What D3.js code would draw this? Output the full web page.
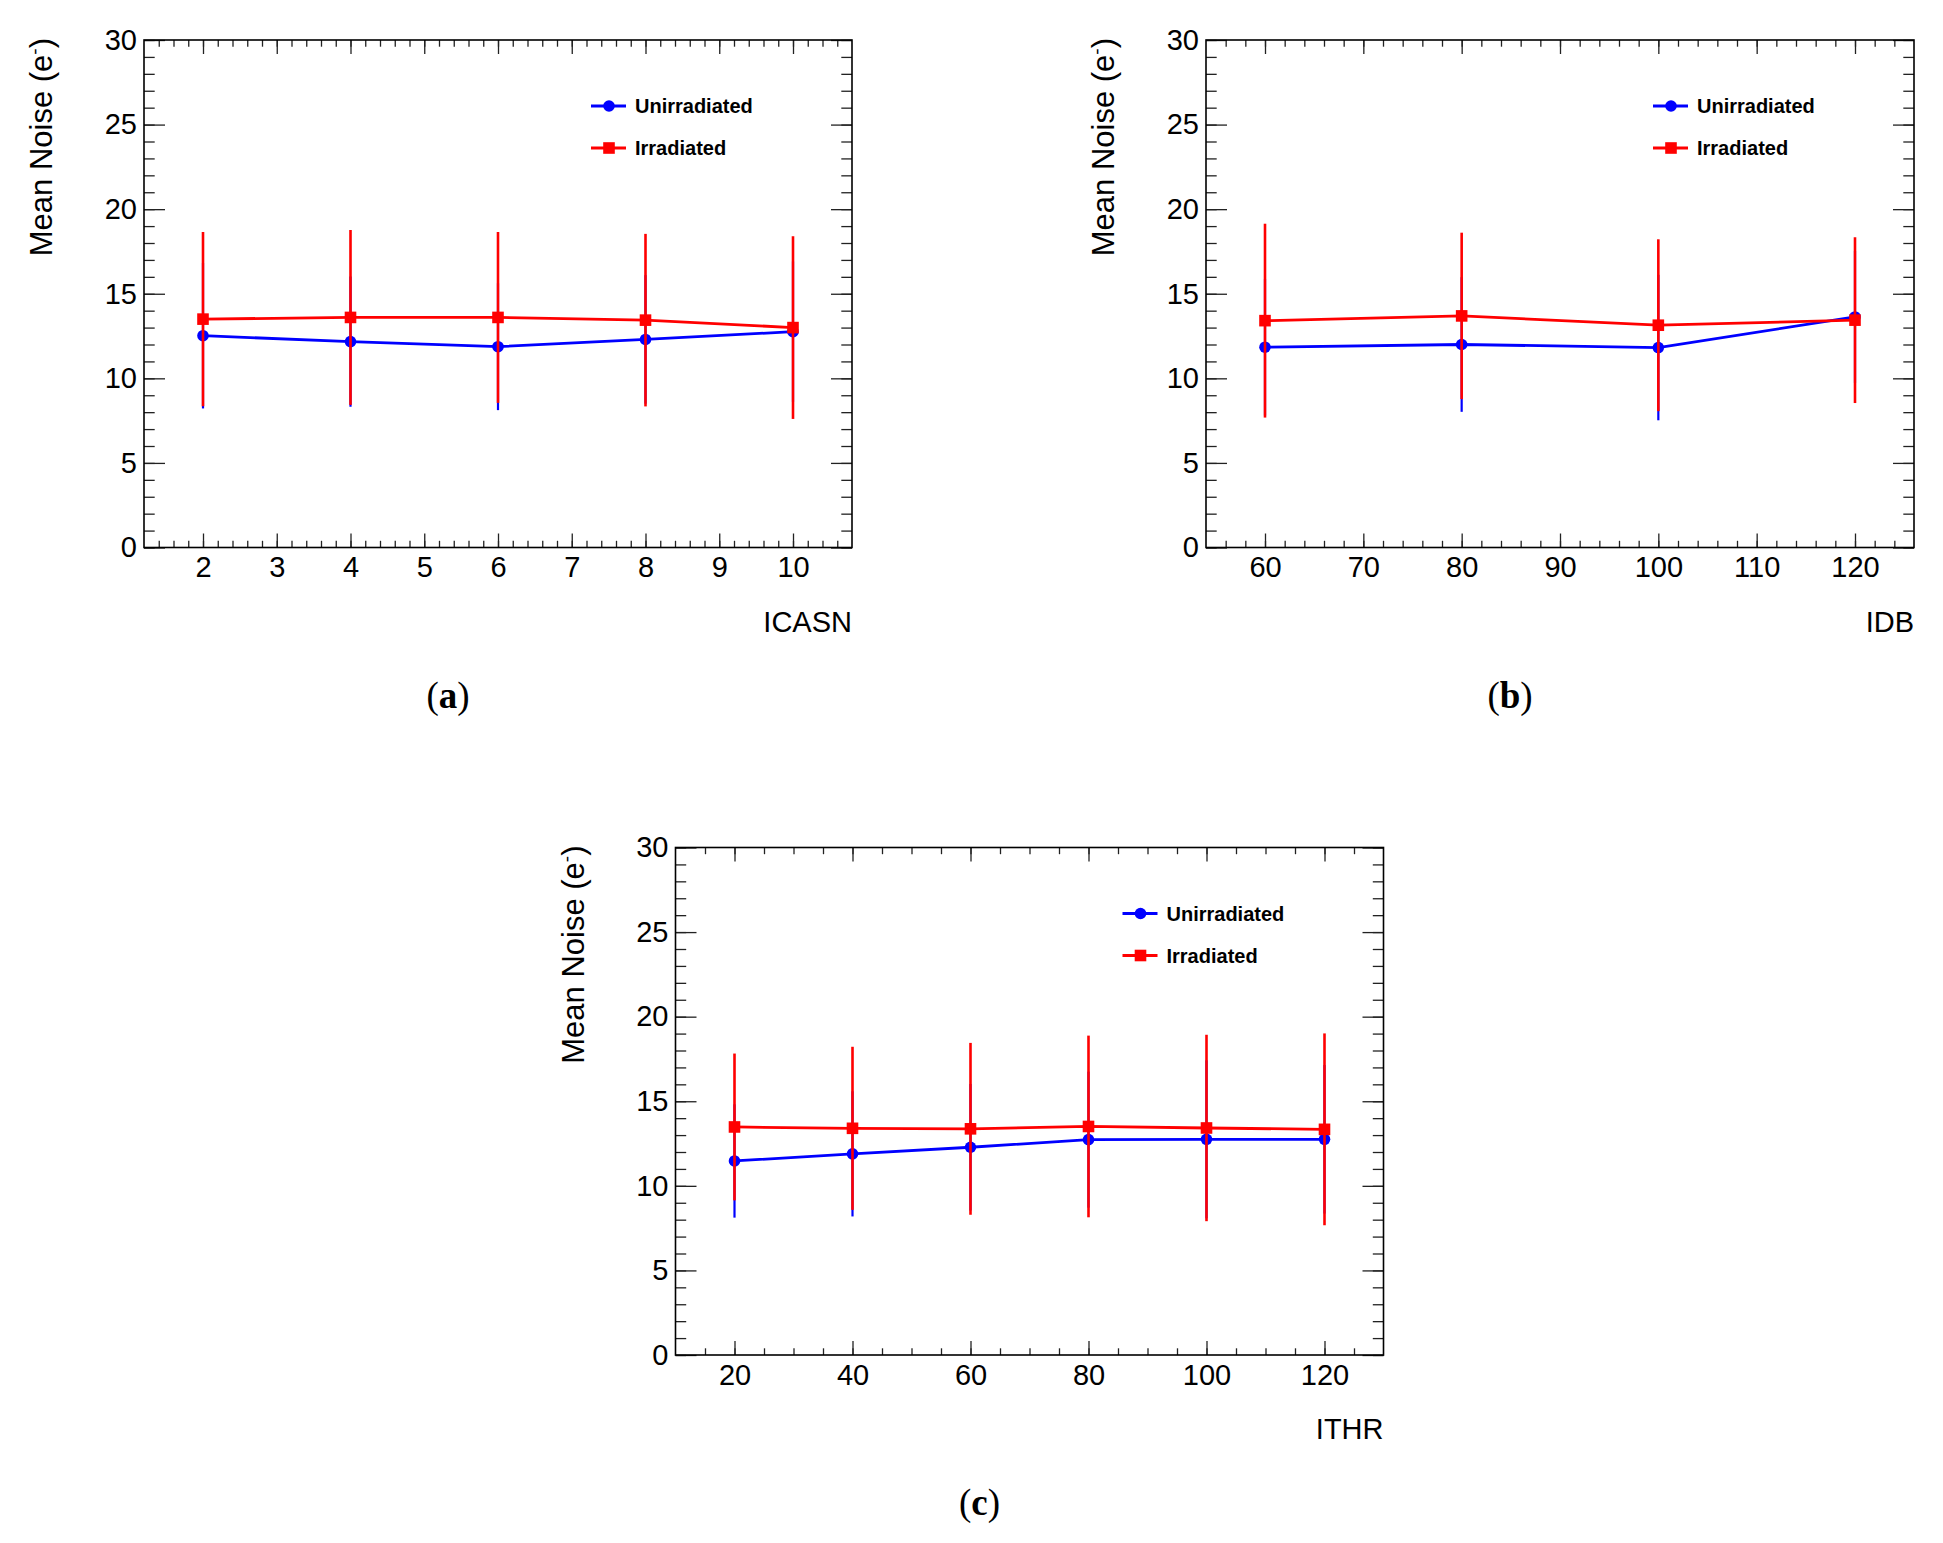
<!DOCTYPE html>
<html>
<head>
<meta charset="utf-8">
<script src="https://cdn.jsdelivr.net/npm/d3@7"></script>
<style>
  body { margin: 0; background: #fff; }
  svg text { font-family: "Liberation Sans", Arial, sans-serif; }
</style>
</head>
<body>
<div id="container"></div>
<script>
// panel (a) : ICASN scan
const icasnX = [2, 4, 6, 8, 10];
const icasnUnirr = [12.52, 12.17, 11.87, 12.3, 12.76];
const icasnUnirrErr = [4.3, 3.85, 3.75, 3.8, 4.15];
const icasnIrr = [13.5, 13.6, 13.6, 13.44, 13.0];
const icasnIrrErr = [5.15, 5.17, 5.05, 5.1, 5.4];

// panel (b) : IDB scan
const idbX = [60, 80, 100, 120];
const idbUnirr = [11.84, 12.0, 11.82, 13.63];
const idbUnirrErr = [4.04, 3.98, 4.3, 3.9];
const idbIrr = [13.41, 13.69, 13.14, 13.44];
const idbIrrErr = [5.73, 4.92, 5.08, 4.9];

// panel (c) : ITHR scan
const ithrX = [20, 40, 60, 80, 100, 120];
const ithrUnirr = [11.47, 11.89, 12.28, 12.73, 12.75, 12.75];
const ithrUnirrErr = [3.35, 3.7, 3.74, 4.02, 4.67, 4.39];
const ithrIrr = [13.48, 13.4, 13.37, 13.51, 13.42, 13.34];
const ithrIrrErr = [4.34, 4.82, 5.08, 5.37, 5.51, 5.67];

const yTicks = [0, 5, 10, 15, 20, 25, 30];
const seriesNames = ["Unirradiated", "Irradiated"];
const yTitle = "Mean Noise (e";

const W = 1943, H = 1543;
const fw = 708, fh = 507.5;

const svg = d3.select("#container")
  .append("svg")
  .attr("width", W)
  .attr("height", H);

function range(a, b, step) {
  const out = [];
  for (let v = a; v <= b + 1e-9; v += step) out.push(+v.toFixed(4));
  return out;
}

function drawPanel(p) {
  const g = svg.append("g")
    .attr("transform", "translate(" + p.left + "," + p.top + ")");

  const x = d3.scaleLinear().domain(p.xDomain).range([0, fw]);
  const y = d3.scaleLinear().domain([0, 30]).range([fh, 0]);

  const xMajor = range(p.xMajor[0], p.xMajor[1], p.xMajor[2]);
  const xMinor = range(p.xDomain[0], p.xDomain[1], p.xMinorStep)
    .filter(v => v > p.xDomain[0] && v < p.xDomain[1]);
  const yMinor = range(0, 30, 1);

  // minor ticks
  g.append("g").attr("transform", "translate(0," + fh + ")")
    .call(d3.axisBottom(x).tickValues(xMinor).tickSize(-6.7).tickFormat(""));
  g.append("g")
    .call(d3.axisTop(x).tickValues(xMinor).tickSize(-6.7).tickFormat(""));
  g.append("g")
    .call(d3.axisLeft(y).tickValues(yMinor).tickSize(-10.7).tickFormat(""));
  g.append("g").attr("transform", "translate(" + fw + ",0)")
    .call(d3.axisRight(y).tickValues(yMinor).tickSize(-10.7).tickFormat(""));

  // major ticks + labels
  g.append("g").attr("class", "xaxis").attr("transform", "translate(0," + fh + ")")
    .call(d3.axisBottom(x).tickValues(xMajor).tickSize(-14).tickPadding(9).tickFormat(d3.format("d")));
  g.append("g")
    .call(d3.axisTop(x).tickValues(xMajor).tickSize(-14).tickFormat(""));
  g.append("g").attr("class", "yaxis")
    .call(d3.axisLeft(y).tickValues(yTicks).tickSize(-21).tickPadding(7).tickFormat(d3.format("d")));
  g.append("g").attr("transform", "translate(" + fw + ",0)")
    .call(d3.axisRight(y).tickValues(yTicks).tickSize(-21).tickFormat(""));

  g.selectAll(".domain").remove();
  g.selectAll(".tick line").attr("stroke", "#222").attr("stroke-width", 1.3);
  g.selectAll(".xaxis text, .yaxis text")
    .attr("font-size", 29)
    .attr("fill", "#000")
    .style("font-family", "'Liberation Sans', Arial, sans-serif");

  g.append("rect")
    .attr("width", fw).attr("height", fh)
    .attr("fill", "none").attr("stroke", "#000").attr("stroke-width", 1.6);

  // series: blue first, red over it
  const series = [
    { vals: p.unirr, errs: p.unirrErr, color: "#0000ff", marker: "circle", barW: 2.2 },
    { vals: p.irr, errs: p.irrErr, color: "#ff0000", marker: "square", barW: 2.6 }
  ];

  series.forEach(s => {
    const pts = p.xs.map((xv, i) => ({ x: xv, y: s.vals[i], e: s.errs[i] }));

    g.append("g").selectAll("line")
      .data(pts).enter().append("line")
      .attr("x1", d => x(d.x)).attr("x2", d => x(d.x))
      .attr("y1", d => y(d.y - d.e)).attr("y2", d => y(d.y + d.e))
      .attr("stroke", s.color).attr("stroke-width", s.barW);

    g.append("path")
      .datum(pts)
      .attr("fill", "none")
      .attr("stroke", s.color)
      .attr("stroke-width", 2.8)
      .attr("d", d3.line().x(d => x(d.x)).y(d => y(d.y)));

    if (s.marker === "circle") {
      g.append("g").selectAll("circle")
        .data(pts).enter().append("circle")
        .attr("cx", d => x(d.x)).attr("cy", d => y(d.y))
        .attr("r", 5.8).attr("fill", s.color);
    } else {
      g.append("g").selectAll("rect")
        .data(pts).enter().append("rect")
        .attr("x", d => x(d.x) - 5.8).attr("y", d => y(d.y) - 5.8)
        .attr("width", 11.6).attr("height", 11.6).attr("fill", s.color);
    }
  });

  // legend
  const leg = g.append("g");
  seriesNames.forEach((name, i) => {
    const ly = 66 + i * 42;
    const color = i === 0 ? "#0000ff" : "#ff0000";
    leg.append("line")
      .attr("x1", 447).attr("x2", 482).attr("y1", ly).attr("y2", ly)
      .attr("stroke", color).attr("stroke-width", 2.8);
    if (i === 0) {
      leg.append("circle").attr("cx", 465).attr("cy", ly).attr("r", 5.8).attr("fill", color);
    } else {
      leg.append("rect").attr("x", 459.2).attr("y", ly - 5.8)
        .attr("width", 11.6).attr("height", 11.6).attr("fill", color);
    }
    leg.append("text")
      .attr("x", 491).attr("y", ly).attr("dy", "0.36em")
      .attr("font-size", 20).attr("font-weight", "bold")
      .text(name);
  });

  // axis titles
  g.append("text")
    .attr("x", fw).attr("y", fh + 84.4)
    .attr("text-anchor", "end")
    .attr("font-size", 29)
    .text(p.xTitle);

  const yt = g.append("text")
    .attr("transform", "translate(-92,-2) rotate(-90)")
    .attr("text-anchor", "end")
    .attr("font-size", 31);
  yt.append("tspan").text(yTitle);
  yt.append("tspan").attr("dy", -11).attr("font-size", 19).text("-");
  yt.append("tspan").attr("dy", 11).text(")");

  // panel label
  const lab = svg.append("text")
    .attr("x", p.left - 50 + fw / 2).attr("y", p.top + fh + 160)
    .attr("text-anchor", "middle")
    .attr("font-size", 37)
    .style("font-family", "'Liberation Serif', 'DejaVu Serif', serif");
  lab.append("tspan").text("(");
  lab.append("tspan").attr("font-weight", "bold").text(p.label);
  lab.append("tspan").text(")");
}

drawPanel({
  left: 144, top: 40, xDomain: [1.2, 10.8], xMajor: [2, 10, 1], xMinorStep: 0.2,
  xs: icasnX, unirr: icasnUnirr, unirrErr: icasnUnirrErr, irr: icasnIrr, irrErr: icasnIrrErr,
  xTitle: "ICASN", label: "a"
});
drawPanel({
  left: 1206, top: 40, xDomain: [54, 126], xMajor: [60, 120, 10], xMinorStep: 2,
  xs: idbX, unirr: idbUnirr, unirrErr: idbUnirrErr, irr: idbIrr, irrErr: idbIrrErr,
  xTitle: "IDB", label: "b"
});
drawPanel({
  left: 675.5, top: 847.5, xDomain: [10, 130], xMajor: [20, 120, 20], xMinorStep: 5,
  xs: ithrX, unirr: ithrUnirr, unirrErr: ithrUnirrErr, irr: ithrIrr, irrErr: ithrIrrErr,
  xTitle: "ITHR", label: "c"
});
</script>
</body>
</html>
